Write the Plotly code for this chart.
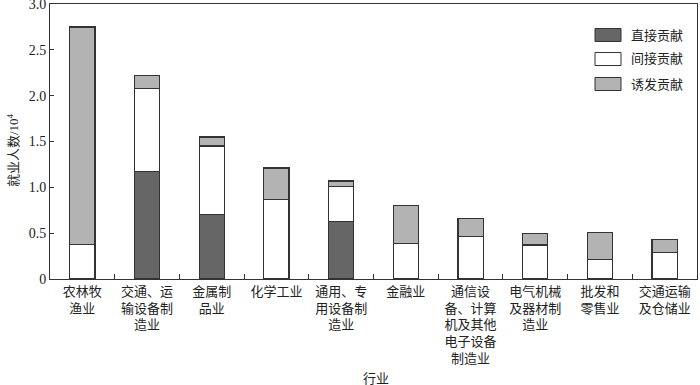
import plotly.graph_objects as go

categories = ["农林牧<br>渔业", "交通、运<br>输设备制<br>造业", "金属制<br>品业", "化学工业",
              "通用、专<br>用设备制<br>造业", "金融业", "通信设<br>备、计算<br>机及其他<br>电子设备<br>制造业",
              "电气机械<br>及器材制<br>造业", "批发和<br>零售业", "交通运输<br>及仓储业"]
direct = [0, 1.17, 0.70, 0, 0.63, 0, 0, 0, 0, 0]
indirect = [0.38, 0.91, 0.75, 0.87, 0.38, 0.39, 0.46, 0.37, 0.21, 0.29]
induced = [2.37, 0.14, 0.10, 0.34, 0.06, 0.41, 0.20, 0.13, 0.30, 0.14]
series_names = ["直接贡献", "间接贡献", "诱发贡献"]
colors = ["#666666", "#ffffff", "#b3b3b3"]
y_ticks = [0, 0.5, 1.0, 1.5, 2.0, 2.5, 3.0]
y_tick_labels = ["0", "0.5", "1.0", "1.5", "2.0", "2.5", "3.0"]

FONT = '"Liberation Serif", "Noto Sans CJK SC", serif'
W, H = 700, 385
ML, MR, MT, MB = 50, 3, 4, 106
PW, PH = W - ML - MR, H - MT - MB

fig = go.Figure()
for name, vals, c in zip(series_names, [direct, indirect, induced], colors):
    fig.add_trace(go.Bar(x=categories, y=[v if v > 0 else None for v in vals], name=name,
                         marker=dict(color=c, line=dict(color="#333333", width=1.2)),
                         showlegend=False, hoverinfo="skip"))

def px_x(x):
    return (x - ML) / PW
def px_y(y):
    return 1 - (y - MT) / PH

legend_rows = [35, 59, 84]
for name, c, yc in zip(series_names, colors, legend_rows):
    fig.add_shape(type="rect", xref="paper", yref="paper",
                  x0=px_x(595), x1=px_x(621), y0=px_y(yc + 6.5), y1=px_y(yc - 6.5),
                  fillcolor=c, line=dict(color="#333333", width=1))
    fig.add_annotation(xref="paper", yref="paper", x=px_x(629), y=px_y(yc),
                       xanchor="left", yanchor="middle", text=name, showarrow=False,
                       font=dict(size=13, family=FONT, color="#222222"))

fig.add_annotation(xref="paper", yref="paper", x=px_x(376), y=px_y(378),
                   xanchor="center", yanchor="middle", text="行业", showarrow=False,
                   font=dict(size=13, family=FONT, color="#222222"))
fig.add_annotation(xref="paper", yref="paper", x=px_x(13), y=px_y(150),
                   xanchor="center", yanchor="middle", text="就业人数/10<sup>4</sup>",
                   textangle=-90, showarrow=False,
                   font=dict(size=13, family=FONT, color="#222222"))

fig.update_layout(
    barmode="stack", bargap=0.61,
    width=W, height=H,
    margin=dict(l=ML, r=MR, t=MT, b=MB),
    plot_bgcolor="white", paper_bgcolor="white",
    font=dict(family=FONT, size=13, color="#222222"),
    showlegend=False,
)
fig.update_xaxes(showline=True, linecolor="#333333", linewidth=1, mirror=True,
                 ticks="inside", tickson="boundaries", ticklen=5, tickcolor="#333333",
                 tickfont=dict(size=13), automargin=False)
fig.update_yaxes(range=[0, 3.0], showline=True, linecolor="#333333", linewidth=1, mirror=True,
                 ticks="inside", ticklen=4, tickcolor="#333333", showgrid=False, zeroline=False,
                 tickvals=y_ticks, ticktext=y_tick_labels, tickfont=dict(size=14),
                 ticklabeloverflow="allow", automargin=False)

fig.write_html("out.html", config={"displayModeBar": False},
               post_script="document.body.style.margin='0';document.body.style.overflow='hidden';")
